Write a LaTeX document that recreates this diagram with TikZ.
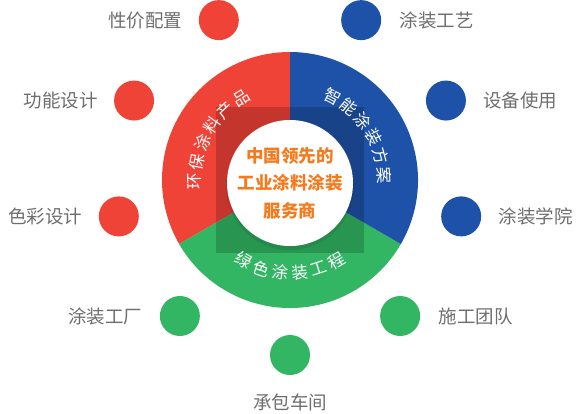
\documentclass[tikz,border=0pt]{standalone}
\usepackage{fontspec}
\setmainfont{Noto Sans CJK SC}
\definecolor{cred}{HTML}{F04338}
\definecolor{cblue}{HTML}{1E52A8}
\definecolor{cgreen}{HTML}{32B663}
\definecolor{corange}{HTML}{F57A1E}
\definecolor{cgray}{HTML}{6E6E6E}
\tikzset{
  dot/.style={circle, minimum size=40pt, inner sep=0pt, fill=#1},
  lbl/.style={inner sep=0pt, text=cgray, font=\fontsize{18.5}{20}\selectfont},
  ringch/.style={inner sep=0pt, text=white, font=\fontsize{16.5}{17}\selectfont},
}
\begin{document}
\begin{tikzpicture}[x=1pt,y=1pt]
\useasboundingbox (-290,-233) rectangle (290,180);
\coordinate (o) at (0,0);
% ring sectors
\fill[cred] (o) -- (90:128) arc[start angle=90,end angle=210,radius=128] -- cycle;
\fill[cgreen] (o) -- (210:128) arc[start angle=210,end angle=330,radius=128] -- cycle;
\fill[cblue] (o) -- (-30:128) arc[start angle=-30,end angle=90,radius=128] -- cycle;
% dark square
\fill[black,opacity=0.18] (-74,-73) rectangle (74,73);
% white centre with faint shadow
\fill[black,opacity=0.08] (0,-6) circle (64);
\node[circle, fill=white, minimum size=126pt, inner sep=0pt] (hub) at (0,-3) {};
\node[inner sep=0pt, align=center, text=corange, font=\bfseries\fontsize{17.5}{27.5}\selectfont] (title) at (0,-3)
  {中国领先的\\工业涂料涂装\\服务商};
% ring labels
\foreach \ch [count=\i] in {环,保,涂,料,产,品} {
  \pgfmathsetmacro\ang{181-12*(\i-1)}
  \node[ringch, rotate=\ang-90] (r\i) at (\ang:95) {\ch};
}
\foreach \ch [count=\i] in {智,能,涂,装,方,案} {
  \pgfmathsetmacro\ang{63-12*(\i-1)}
  \node[ringch, rotate=\ang-90] (b\i) at (\ang:94) {\ch};
}
\foreach \ch [count=\i] in {绿,色,涂,装,工,程} {
  \pgfmathsetmacro\ang{240+12*(\i-1)}
  \node[ringch, rotate=\ang+90] (g\i) at (\ang:93) {\ch};
}
% outer dots
\node[dot=cred] (d1) at (114:175) {};
\node[dot=cred] (d2) at (153:175) {};
\node[dot=cred] (d3) at (192:175) {};
\node[dot=cgreen] (d4) at (231:175) {};
\node[dot=cgreen] (d5) at (270:175) {};
\node[dot=cgreen] (d6) at (309:175) {};
\node[dot=cblue] (d7) at (348:175) {};
\node[dot=cblue] (d8) at (27:175) {};
\node[dot=cblue] (d9) at (66:175) {};
% outer labels
\node[lbl, anchor=east] (l1) at ([xshift=-16pt]d1.west) {性价配置};
\node[lbl, anchor=east] (l2) at ([xshift=-16pt]d2.west) {功能设计};
\node[lbl, anchor=east] (l3) at ([xshift=-16pt]d3.west) {色彩设计};
\node[lbl, anchor=east] (l4) at ([xshift=-17pt]d4.west) {涂装工厂};
\node[lbl] (l5) at (0,-222) {承包车间};
\node[lbl, anchor=west] (l6) at ([xshift=18pt]d6.east) {施工团队};
\node[lbl, anchor=west] (l7) at ([xshift=17pt]d7.east) {涂装学院};
\node[lbl, anchor=west] (l8) at ([xshift=17pt]d8.east) {设备使用};
\node[lbl, anchor=west] (l9) at ([xshift=18pt]d9.east) {涂装工艺};
\end{tikzpicture}
\end{document}
